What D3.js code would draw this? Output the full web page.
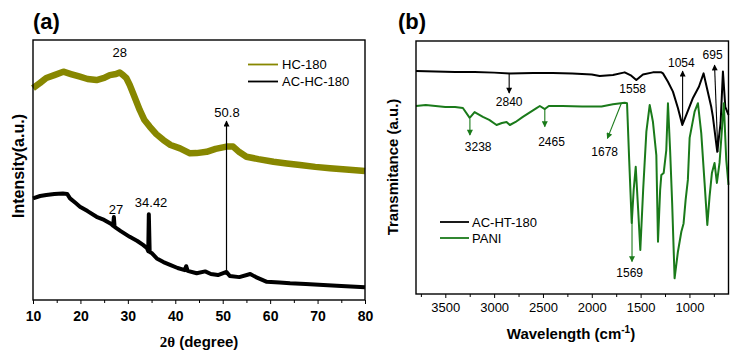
<!DOCTYPE html>
<html>
<head>
<meta charset="utf-8">
<script src="https://cdn.jsdelivr.net/npm/d3@7"></script>
<style>
  body { margin: 0; background: #fff; }
  svg { font-family: Arial, "Liberation Sans", sans-serif; }
</style>
</head>
<body>
<div id="chart"></div>
<script>
// ---------- (a) XRD data ----------
var hcAngle = [10, 11.5, 12.8, 14.5, 16.4, 18, 19.9, 21.5, 23.4, 25, 26.2, 27.5, 28.3, 29, 29.7,
  30.4, 31.1, 32.5, 33.5, 34.6, 36, 37.5, 39, 41, 43.1, 44.5, 46.6, 48.5, 50.8, 52.2,
  53.5, 55, 57.5, 60.7, 63.5, 66.3, 69.5, 72.6, 76, 80];
var hc180 = [81.5, 83.5, 85.4, 86.5, 87.8, 86.9, 85.9, 85.0, 84.6, 85.4, 86.5, 86.9, 87.5, 86.5, 85.3,
  82.7, 79.5, 73.1, 69.2, 66.7, 63.8, 61.5, 59.6, 58.3, 56.4, 56.5, 57.0, 58.1, 59.0, 59.0,
  56.9, 55.1, 54.2, 53.2, 52.5, 51.9, 51.2, 50.7, 50.2, 49.6];

var acAngle = [10, 11.5, 12.8, 14.5, 16.3, 17.2, 17.8, 19, 19.9, 21.5, 23.4, 25, 26.5, 26.9, 27.05,
  27.2, 28.5, 30.4, 32, 33.2, 34, 34.3, 34.42, 34.6, 35, 36.1, 37.5, 38.9, 40.5, 42,
  42.3, 42.6, 44.5, 46.3, 47.5, 49, 50.8, 51.5, 53.5, 55.8, 57, 59.3, 62, 64.2, 67.5,
  71.2, 75, 80];
var acHc180 = [39.1, 40.0, 40.4, 40.8, 41.0, 40.8, 39.1, 37.3, 35.9, 34.2, 32.0, 30.8, 29.2, 28.5, 31.9,
  28.1, 26.5, 24.3, 22.7, 21.2, 20.0, 18.8, 33.0, 18.5, 18.1, 16.0, 14.6, 13.5, 12.3, 11.5,
  13.0, 11.2, 10.3, 11.0, 10.0, 9.6, 10.8, 9.2, 8.8, 10.0, 8.8, 7.0, 6.7, 6.4, 6.2,
  5.8, 5.4, 4.9];

var xrdTicks = [10, 20, 30, 40, 50, 60, 70, 80];
var xrdMinor = [15, 25, 35, 45, 55, 65, 75];
var xrdLegend = ["HC-180", "AC-HC-180"];
var xrdNotes = [
  { text: "28", x: 28.3, y: 95.4 },
  { text: "27", x: 27.5, y: 35.0 },
  { text: "34.42", x: 34.9, y: 37.7 },
  { text: "50.8", x: 50.9, y: 72.3 }
];
var xrdArrow = { x1: 50.8, y1: 9.6, x2: 50.8, y2: 68.8 };

// ---------- (b) FTIR data ----------
var acWave = [3800, 3600, 3400, 3200, 3000, 2840, 2600, 2400, 2200, 2000, 1919, 1783, 1663, 1595, 1544,
  1476, 1374, 1288, 1271, 1220, 1169, 1118, 1073, 1025, 964, 903, 855, 821, 777, 760,
  715, 681, 657, 633, 600];
var acHt180 = [88.1, 87.9, 87.7, 87.7, 87.5, 87.2, 87.4, 87.4, 87.2, 86.8, 86.2, 86.6, 87.6, 86.3, 84.6,
  86.8, 87.6, 87.6, 87.2, 83.9, 80.0, 73.5, 66.8, 71.5, 77.5, 81.9, 87.2, 81.4, 74.0, 70.1,
  56.2, 67.6, 87.9, 74.0, 70.8];

var paniWave = [3800, 3700, 3600, 3500, 3400, 3320, 3250, 3200, 3115, 3050, 2975, 2920, 2873, 2839, 2780,
  2706, 2630, 2566, 2532, 2481, 2440, 2300, 2100, 1900, 1783, 1663, 1639, 1617, 1591, 1571,
  1550, 1525, 1503, 1474, 1441, 1407, 1387, 1374, 1339, 1322, 1300, 1288, 1264, 1237, 1220,
  1198, 1177, 1152, 1118, 1083, 1060, 1039, 1016, 998, 947, 913, 879, 845, 817, 794,
  770, 743, 719, 692, 648, 623, 600];
var pani = [74.3, 74.7, 74.3, 73.9, 73.9, 73.5, 69.6, 71.9, 70.0, 68.8, 66.8, 67.6, 68.0, 66.8, 68.0,
  70.0, 71.9, 73.5, 74.3, 73.1, 74.3, 74.3, 74.1, 74.1, 75.0, 75.6, 75.4, 53.0, 28.1, 41.1,
  50.3, 33.2, 17.4, 41.1, 64.2, 74.7, 70.8, 68.1, 54.9, 20.7, 41.1, 47.0, 47.8, 56.9, 75.4,
  56.9, 36.0, 6.2, 16.7, 24.6, 27.9, 37.2, 45.1, 61.7, 72.1, 75.4, 63.6, 43.9, 27.3, 38.5,
  47.8, 51.8, 43.9, 51.8, 75.4, 53.0, 43.1];

var ftirTicks = [3500, 3000, 2500, 2000, 1500, 1000];
var ftirMinor = [3750, 3250, 2750, 2250, 1750, 1250, 750];
var ftirLegend = ["AC-HT-180", "PANI"];
var ftirNotes = [
  { text: "2840", x: 2846, y: 75.9 },
  { text: "1054", x: 1083, y: 91.3 },
  { text: "695", x: 763, y: 94.5 },
  { text: "1558", x: 1581, y: 81.0 },
  { text: "3238", x: 3163, y: 58.2 },
  { text: "2465", x: 2412, y: 60.2 },
  { text: "1678", x: 1868, y: 56.2 },
  { text: "1569", x: 1612, y: 8.2 }
];
var ftirArrows = [
  { series: "ac", x1: 2846, y1: 87.4, x2: 2846, y2: 79.4 },
  { series: "ac", x1: 1070, y1: 67.6, x2: 1070, y2: 88.1 },
  { series: "ac", x1: 709, y1: 56.1, x2: 743, y2: 90.5 },
  { series: "pani", x1: 3248, y1: 69.2, x2: 3248, y2: 62.8 },
  { series: "pani", x1: 2481, y1: 73.1, x2: 2481, y2: 66.1 },
  { series: "pani", x1: 1697, y1: 75.4, x2: 1840, y2: 61.5 },
  { series: "pani", x1: 1588, y1: 29.2, x2: 1588, y2: 12.8 }
];

// ---------- layout ----------
var svgWidth = 741, svgHeight = 354;
var olive = "#878700", green = "#1a7a1a";

var svg = d3.select("#chart").append("svg")
  .attr("width", svgWidth)
  .attr("height", svgHeight);

// arrow heads
var defs = svg.append("defs");
[["headBlack", "#000"], ["headGreen", green]].forEach(function(m) {
  defs.append("marker")
    .attr("id", m[0])
    .attr("viewBox", "0 0 10 10")
    .attr("refX", 9).attr("refY", 5)
    .attr("markerUnits", "userSpaceOnUse")
    .attr("markerWidth", 7).attr("markerHeight", 6)
    .attr("orient", "auto")
    .append("path")
    .attr("d", "M0,0 L10,5 L0,10 Z")
    .attr("fill", m[1]);
});

// ================= panel (a) =================
var a = { left: 33, top: 40, width: 332, height: 260 };
var gA = svg.append("g").attr("transform", `translate(${a.left}, ${a.top})`);

var xA = d3.scaleLinear().domain([10, 80]).range([0, a.width]);
var yA = d3.scaleLinear().domain([0, 100]).range([a.height, 0]);

gA.append("g")
  .attr("transform", `translate(0, ${a.height})`)
  .call(d3.axisBottom(xA).tickValues(xrdMinor).tickSize(3).tickFormat(""))
  .call(g => g.select(".domain").remove());

var axA = gA.append("g")
  .attr("transform", `translate(0, ${a.height})`)
  .call(d3.axisBottom(xA).tickValues(xrdTicks).tickSize(4).tickPadding(7).tickSizeOuter(0));
axA.select(".domain").remove();
axA.selectAll("text")
  .attr("font-size", 14).attr("font-weight", "bold").attr("fill", "#000")
  .attr("font-family", "Arial, 'Liberation Sans', sans-serif");

var lineHc = d3.line().x((d, i) => xA(hcAngle[i])).y(d => yA(d));
var lineAc = d3.line().x((d, i) => xA(acAngle[i])).y(d => yA(d));

// noisy XRD traces drawn as wide strokes
gA.append("path").datum(hc180)
  .attr("d", lineHc)
  .attr("fill", "none").attr("stroke", olive)
  .attr("stroke-width", 6.5).attr("stroke-linejoin", "round");

gA.append("path").datum(acHc180)
  .attr("d", lineAc)
  .attr("fill", "none").attr("stroke", "#000")
  .attr("stroke-width", 4).attr("stroke-linejoin", "round");

// arrow at 50.8
gA.append("line")
  .attr("x1", xA(xrdArrow.x1)).attr("y1", yA(xrdArrow.y1))
  .attr("x2", xA(xrdArrow.x2)).attr("y2", yA(xrdArrow.y2))
  .attr("stroke", "#000").attr("stroke-width", 1.2)
  .attr("marker-end", "url(#headBlack)");

gA.selectAll(".note").data(xrdNotes).enter().append("text")
  .attr("x", d => xA(d.x))
  .attr("y", d => yA(d.y))
  .attr("dy", "0.35em")
  .attr("text-anchor", "middle")
  .attr("font-size", 13)
  .text(d => d.text);

// legend (a)
var legA = gA.selectAll(".legA").data(xrdLegend).enter().append("g")
  .attr("transform", (d, i) => `translate(215, ${24.5 + i * 17})`);
legA.append("line")
  .attr("x1", 0).attr("x2", 30)
  .attr("stroke", (d, i) => i === 0 ? olive : "#000")
  .attr("stroke-width", 1.8);
legA.append("text")
  .attr("x", 34).attr("dy", "0.35em")
  .attr("font-size", 13)
  .text(d => d);

gA.append("rect")
  .attr("width", a.width).attr("height", a.height)
  .attr("fill", "none").attr("stroke", "#000").attr("stroke-width", 1.4);

// titles (a)
svg.append("text")
  .attr("x", 33).attr("y", 29)
  .attr("font-size", 22).attr("font-weight", "bold")
  .text("(a)");

var xt = svg.append("text")
  .attr("x", a.left + a.width / 2).attr("y", 347)
  .attr("text-anchor", "middle")
  .attr("font-size", 15).attr("font-weight", "bold");
xt.append("tspan").attr("font-family", "'Liberation Serif', 'DejaVu Serif', serif").text("2\u03b8");
xt.append("tspan").text(" (degree)");

svg.append("text")
  .attr("transform", "translate(24, 166) rotate(-90)")
  .attr("text-anchor", "middle")
  .attr("font-size", 16).attr("font-weight", "bold")
  .text("Intensity(a.u.)");

// ================= panel (b) =================
var b = { left: 416, top: 41, width: 312.5, height: 253 };
var gB = svg.append("g").attr("transform", `translate(${b.left}, ${b.top})`);

var xB = d3.scaleLinear().domain([3800, 600]).range([0, b.width]);
var yB = d3.scaleLinear().domain([0, 100]).range([b.height, 0]);

gB.append("g")
  .attr("transform", `translate(0, ${b.height})`)
  .call(d3.axisBottom(xB).tickValues(ftirMinor).tickSize(3).tickFormat(""))
  .call(g => g.select(".domain").remove());

var axB = gB.append("g")
  .attr("transform", `translate(0, ${b.height})`)
  .call(d3.axisBottom(xB).tickValues(ftirTicks).tickSize(4).tickPadding(5)
    .tickSizeOuter(0).tickFormat(d3.format("d")));
axB.select(".domain").remove();
axB.selectAll("text")
  .attr("font-size", 13).attr("fill", "#000")
  .attr("font-family", "Arial, 'Liberation Sans', sans-serif");

var lineAcHt = d3.line().x((d, i) => xB(acWave[i])).y(d => yB(d));
var linePani = d3.line().x((d, i) => xB(paniWave[i])).y(d => yB(d));

gB.append("path").datum(acHt180)
  .attr("d", lineAcHt)
  .attr("fill", "none").attr("stroke", "#000")
  .attr("stroke-width", 2).attr("stroke-linejoin", "round");

gB.append("path").datum(pani)
  .attr("d", linePani)
  .attr("fill", "none").attr("stroke", green)
  .attr("stroke-width", 2).attr("stroke-linejoin", "round");

gB.selectAll(".arrow").data(ftirArrows).enter().append("line")
  .attr("x1", d => xB(d.x1)).attr("y1", d => yB(d.y1))
  .attr("x2", d => xB(d.x2)).attr("y2", d => yB(d.y2))
  .attr("stroke", d => d.series === "ac" ? "#000" : green)
  .attr("stroke-width", 1.1)
  .attr("marker-end", d => d.series === "ac" ? "url(#headBlack)" : "url(#headGreen)");

gB.selectAll(".note").data(ftirNotes).enter().append("text")
  .attr("x", d => xB(d.x))
  .attr("y", d => yB(d.y))
  .attr("dy", "0.35em")
  .attr("text-anchor", "middle")
  .attr("font-size", 12)
  .text(d => d.text);

// legend (b)
var legB = gB.selectAll(".legB").data(ftirLegend).enter().append("g")
  .attr("transform", (d, i) => `translate(24, ${181 + i * 16})`);
legB.append("line")
  .attr("x1", 0).attr("x2", 29)
  .attr("stroke", (d, i) => i === 0 ? "#000" : green)
  .attr("stroke-width", 1.8);
legB.append("text")
  .attr("x", 32).attr("dy", "0.35em")
  .attr("font-size", 13)
  .text(d => d);

gB.append("rect")
  .attr("width", b.width).attr("height", b.height)
  .attr("fill", "none").attr("stroke", "#000").attr("stroke-width", 1.4);

// titles (b)
svg.append("text")
  .attr("x", 398).attr("y", 29)
  .attr("font-size", 22).attr("font-weight", "bold")
  .text("(b)");

var xtb = svg.append("text")
  .attr("x", 571).attr("y", 339)
  .attr("text-anchor", "middle")
  .attr("font-size", 15).attr("font-weight", "bold");
xtb.append("tspan").text("Wavelength (cm");
xtb.append("tspan").attr("font-size", 10).attr("dy", -6).text("-1");
xtb.append("tspan").attr("dy", 6).text(")");

svg.append("text")
  .attr("transform", "translate(398, 167) rotate(-90)")
  .attr("text-anchor", "middle")
  .attr("font-size", 15).attr("font-weight", "bold")
  .text("Transmitance (a.u.)");
</script>
</body>
</html>
